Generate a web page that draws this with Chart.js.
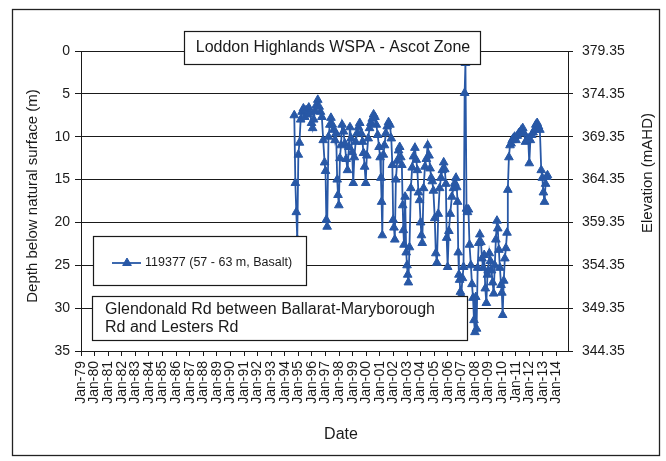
<!DOCTYPE html>
<html>
<head>
<meta charset="utf-8">
<script src="https://cdn.jsdelivr.net/npm/chart.js@4.4.0/dist/chart.umd.min.js"></script>
<style>
  html, body { margin: 0; padding: 0; background: #fff; }
  #wrap { width: 666px; height: 461px; position: relative; }
</style>
</head>
<body>
<div id="wrap"><canvas id="chart" width="666" height="461"></canvas></div>
<script>
// ---- Labels ----
const chartTitle = 'Loddon Highlands WSPA - Ascot Zone';
const siteNote = ['Glendonald Rd between Ballarat-Maryborough', 'Rd and Lesters Rd'];
const boreLabel = '119377 (57 - 63 m, Basalt)';
const depthTitle = 'Depth below natural surface (m)';
const elevationTitle = 'Elevation (mAHD)';
const dateTitle = 'Date';

// ---- Axis ticks ----
const dateTickLabels = ['Jan-79','Jan-80','Jan-81','Jan-82','Jan-83','Jan-84','Jan-85','Jan-86','Jan-87',
  'Jan-88','Jan-89','Jan-90','Jan-91','Jan-92','Jan-93','Jan-94','Jan-95','Jan-96','Jan-97','Jan-98',
  'Jan-99','Jan-00','Jan-01','Jan-02','Jan-03','Jan-04','Jan-05','Jan-06','Jan-07','Jan-08','Jan-09',
  'Jan-10','Jan-11','Jan-12','Jan-13','Jan-14'];
const firstTickYear = 1979;
const depthTicks = [0, 5, 10, 15, 20, 25, 30, 35];
const elevationTicks = [379.35, 374.35, 369.35, 364.35, 359.35, 354.35, 349.35, 344.35];

// ---- Bore 119377 readings (decimal year, depth below surface in m) ----
const readingYears = [
  1994.70, 1994.78, 1994.85, 1994.92,
  1995.00, 1995.08, 1995.17, 1995.27, 1995.37, 1995.47, 1995.57, 1995.67, 1995.77, 1995.87, 1995.97,
  1996.05, 1996.13, 1996.23, 1996.33, 1996.43, 1996.53, 1996.63, 1996.73, 1996.83, 1996.93,
  1997.00, 1997.06, 1997.12, 1997.22, 1997.32, 1997.40, 1997.50, 1997.60, 1997.70, 1997.78, 1997.86, 1997.92, 1997.98,
  1998.06, 1998.14, 1998.22, 1998.32, 1998.42, 1998.52, 1998.62, 1998.72, 1998.80, 1998.88, 1998.96,
  1999.04, 1999.12, 1999.22, 1999.32, 1999.42, 1999.52, 1999.62, 1999.72, 1999.80, 1999.88, 1999.96,
  2000.04, 2000.14, 2000.24, 2000.34, 2000.44, 2000.54, 2000.64, 2000.74, 2000.84, 2000.94,
  2001.02, 2001.08, 2001.13, 2001.18, 2001.26, 2001.34, 2001.44, 2001.54, 2001.64, 2001.74, 2001.84, 2001.92, 2001.98,
  2002.04, 2002.10, 2002.18, 2002.28, 2002.38, 2002.46, 2002.54, 2002.62, 2002.68, 2002.73, 2002.78, 2002.86, 2002.94,
  2003.00, 2003.05, 2003.10, 2003.18, 2003.28, 2003.38, 2003.48, 2003.58, 2003.68, 2003.76, 2003.84, 2003.92,
  2004.00, 2004.06, 2004.12, 2004.22, 2004.32, 2004.42, 2004.52, 2004.62, 2004.70, 2004.78, 2004.86, 2004.94,
  2005.04, 2005.12, 2005.20, 2005.30, 2005.40, 2005.50, 2005.60, 2005.70, 2005.78, 2005.86, 2005.92, 2005.99,
  2006.08, 2006.18, 2006.30, 2006.42, 2006.52, 2006.60, 2006.66, 2006.72, 2006.77, 2006.82, 2006.87, 2006.93, 2006.99,
  2007.08, 2007.16, 2007.24, 2007.30, 2007.38, 2007.45, 2007.52, 2007.60, 2007.70, 2007.78, 2007.86, 2007.93,
  2008.00, 2008.06, 2008.12, 2008.20, 2008.28, 2008.36, 2008.44, 2008.52, 2008.60, 2008.68, 2008.76, 2008.84, 2008.92, 2008.98,
  2009.06, 2009.14, 2009.22, 2009.30, 2009.38, 2009.46, 2009.54, 2009.62, 2009.68, 2009.76, 2009.84, 2009.92, 2009.98,
  2010.04, 2010.12, 2010.20, 2010.28, 2010.36, 2010.42, 2010.50, 2010.58, 2010.66, 2010.74, 2010.82, 2010.92,
  2011.02, 2011.12, 2011.22, 2011.32, 2011.42, 2011.52, 2011.62, 2011.72, 2011.82, 2011.92,
  2012.00, 2012.08, 2012.18, 2012.28, 2012.38, 2012.48, 2012.58, 2012.68, 2012.78, 2012.88, 2012.96,
  2013.04, 2013.12, 2013.20, 2013.28, 2013.34
];
const depthBelowSurface = [
  7.5, 15.4, 18.8, 22.0,
  12.1, 10.7, 8.0, 7.1, 6.7, 7.7, 6.9, 7.4, 6.6, 7.2, 8.4,
  9.0, 8.0, 7.0, 6.3, 5.7, 6.5, 7.1, 7.7, 10.4, 13.0,
  14.0, 19.7, 20.5, 10.0, 8.6, 7.8, 8.6, 9.2, 10.4, 9.6, 15.0, 16.8, 18.0,
  12.5, 11.0, 8.6, 9.4, 10.8, 12.6, 13.9, 11.2, 8.9, 10.2, 11.8,
  15.4, 12.4, 10.6, 9.6, 8.9, 8.4, 9.6, 10.6, 11.9, 13.5, 15.4,
  12.2, 10.2, 9.0, 8.4, 7.9, 7.4, 7.7, 8.6, 9.8, 11.2,
  12.4, 14.8, 17.6, 21.5, 12.1, 11.0, 9.6, 8.8, 8.3, 8.6, 10.2, 13.3, 19.7,
  20.6, 22.0, 15.0, 12.8, 11.6, 11.2, 12.4, 13.3, 18.0, 20.9, 22.6, 17.0, 23.5,
  25.0, 26.1, 27.0, 22.9, 16.0, 13.6, 12.3, 11.3, 12.7, 13.9, 16.5, 17.4,
  20.0, 21.5, 22.4, 16.0, 13.5, 12.6, 11.0, 12.2, 13.7, 14.8, 15.2, 16.3,
  19.5, 23.6, 24.7, 19.0, 16.0, 14.8, 13.9, 13.0, 13.8, 15.5, 21.8, 25.2,
  21.0, 19.0, 17.0, 16.0, 15.4, 14.8, 15.9, 17.6, 23.5, 26.1, 26.7, 28.1, 28.5,
  26.5, 25.2, 4.9, 1.4, 18.4, 18.8, 18.5, 22.6, 25.0, 27.2, 28.8, 31.4,
  32.8, 28.7, 32.4, 25.3, 22.4, 21.4, 22.3, 24.2, 25.3, 23.8, 27.7, 29.4, 26.1, 25.6,
  23.6, 24.5, 25.6, 27.0, 28.3, 25.0, 22.0, 19.8, 20.7, 23.2, 25.3, 27.3, 28.2,
  30.8, 26.8, 24.2, 23.0, 21.2, 16.2, 12.4, 11.0, 10.8, 10.4, 10.2, 10.0,
  10.4, 9.9, 9.6, 9.5, 9.2, 9.0, 9.6, 10.6, 10.4, 10.2,
  13.1, 10.4, 9.8, 9.5, 9.2, 8.6, 8.4, 8.8, 9.2, 13.9, 14.8,
  16.5, 17.6, 15.5, 14.7, 14.5
];

const FONT = "'Liberation Sans', Arial, Helvetica, sans-serif";
const INK = '#1a1a1a';
const SERIES_BLUE = '#2858a6';

function triangle(ctx, x, y, r) {
  ctx.beginPath();
  let a = 0;
  ctx.moveTo(x + Math.sin(a) * r, y - Math.cos(a) * r);
  a += 2 * Math.PI / 3;
  ctx.lineTo(x + Math.sin(a) * r, y - Math.cos(a) * r);
  a += 2 * Math.PI / 3;
  ctx.lineTo(x + Math.sin(a) * r, y - Math.cos(a) * r);
  ctx.closePath();
  ctx.fill();
  ctx.stroke();
}

function whiteBox(ctx, x, y, w, h) {
  ctx.fillStyle = '#fff';
  ctx.fillRect(x, y, w, h);
  ctx.strokeStyle = INK;
  ctx.lineWidth = 1.2;
  ctx.strokeRect(x, y, w, h);
}

// Frame, axis titles, title box, legend and site note
const decorations = {
  id: 'decorations',
  beforeDraw(chart) {
    const ctx = chart.ctx;
    ctx.save();
    ctx.fillStyle = '#fff';
    ctx.fillRect(0, 0, chart.width, chart.height);
    ctx.restore();
  },
  afterDraw(chart) {
    const ctx = chart.ctx;
    const area = chart.chartArea;
    ctx.save();

    // outer frame
    ctx.strokeStyle = '#222';
    ctx.lineWidth = 1.3;
    ctx.strokeRect(12.5, 9.5, 647, 446);

    // axis titles
    ctx.fillStyle = INK;
    ctx.font = `15px ${FONT}`;
    ctx.textAlign = 'center';
    ctx.textBaseline = 'middle';
    ctx.save();
    ctx.translate(33, (area.top + area.bottom) / 2 - 5);
    ctx.rotate(-Math.PI / 2);
    ctx.fillText(depthTitle, 0, 0);
    ctx.restore();
    ctx.save();
    ctx.translate(648, 173);
    ctx.rotate(-Math.PI / 2);
    ctx.fillText(elevationTitle, 0, 0);
    ctx.restore();
    ctx.font = `16px ${FONT}`;
    ctx.fillText(dateTitle, 341, 435);

    // title box
    whiteBox(ctx, 184.5, 31.5, 296, 33);
    ctx.fillStyle = INK;
    ctx.font = `16px ${FONT}`;
    ctx.fillText(chartTitle, 333, 48);

    // legend box
    const ds = chart.data.datasets[0];
    whiteBox(ctx, 93.5, 236.5, 213, 49);
    ctx.strokeStyle = ds.borderColor;
    ctx.lineWidth = ds.borderWidth;
    ctx.beginPath();
    ctx.moveTo(112, 263);
    ctx.lineTo(141, 263);
    ctx.stroke();
    ctx.fillStyle = ds.backgroundColor;
    ctx.lineWidth = 1;
    triangle(ctx, 127, 263, ds.pointRadius);
    ctx.fillStyle = INK;
    ctx.font = `12.5px ${FONT}`;
    ctx.textAlign = 'left';
    ctx.fillText(ds.label, 145, 263);

    // site note box
    whiteBox(ctx, 92.5, 296.5, 375, 44);
    ctx.fillStyle = INK;
    ctx.font = `16px ${FONT}`;
    ctx.fillText(siteNote[0], 105, 310);
    ctx.fillText(siteNote[1], 105, 328);

    ctx.restore();
  }
};

new Chart(document.getElementById('chart'), {
  type: 'line',
  data: {
    datasets: [{
      label: boreLabel,
      data: readingYears.map((yr, i) => ({ x: yr, y: depthBelowSurface[i] })),
      borderColor: SERIES_BLUE,
      backgroundColor: SERIES_BLUE,
      borderWidth: 1.8,
      pointStyle: 'triangle',
      pointRadius: 5,
      pointBorderWidth: 1,
      tension: 0,
      yAxisID: 'y'
    }]
  },
  options: {
    responsive: false,
    animation: false,
    devicePixelRatio: 1,
    layout: { padding: { top: 51, left: 0, right: 0, bottom: 0 } },
    plugins: {
      legend: { display: false },
      title: { display: false },
      tooltip: { enabled: false }
    },
    scales: {
      x: {
        type: 'linear',
        min: 1979,
        max: 2014.85,
        afterBuildTicks: s => { s.ticks = dateTickLabels.map((_, i) => ({ value: firstTickYear + i })); },
        afterFit: s => { s.height = 110; },
        ticks: {
          autoSkip: false,
          minRotation: 90,
          maxRotation: 90,
          padding: 5,
          color: INK,
          font: { family: FONT, size: 14 },
          callback: (v, i) => dateTickLabels[i]
        },
        grid: { drawOnChartArea: false, drawTicks: true, tickLength: 5, color: INK },
        border: { display: true, color: INK, width: 1 }
      },
      y: {
        position: 'left',
        reverse: true,
        min: 0,
        max: 35,
        afterBuildTicks: s => { s.ticks = depthTicks.map(v => ({ value: v })); },
        afterFit: s => { s.width = 81; },
        ticks: {
          padding: 5,
          color: INK,
          font: { family: FONT, size: 14 },
          callback: v => String(v)
        },
        grid: { color: INK, lineWidth: 1, drawTicks: true, tickLength: 6 },
        border: { display: true, color: INK, width: 1 }
      },
      y2: {
        position: 'right',
        min: 344.35,
        max: 379.35,
        afterBuildTicks: s => { s.ticks = elevationTicks.map(v => ({ value: v })); },
        afterFit: s => { s.width = 98; },
        ticks: {
          padding: 9,
          color: INK,
          font: { family: FONT, size: 14 },
          callback: v => v.toFixed(2)
        },
        grid: { drawOnChartArea: false, drawTicks: true, tickLength: 5, color: INK },
        border: { display: true, color: INK, width: 1 }
      }
    }
  },
  plugins: [decorations]
});
</script>
</body>
</html>
